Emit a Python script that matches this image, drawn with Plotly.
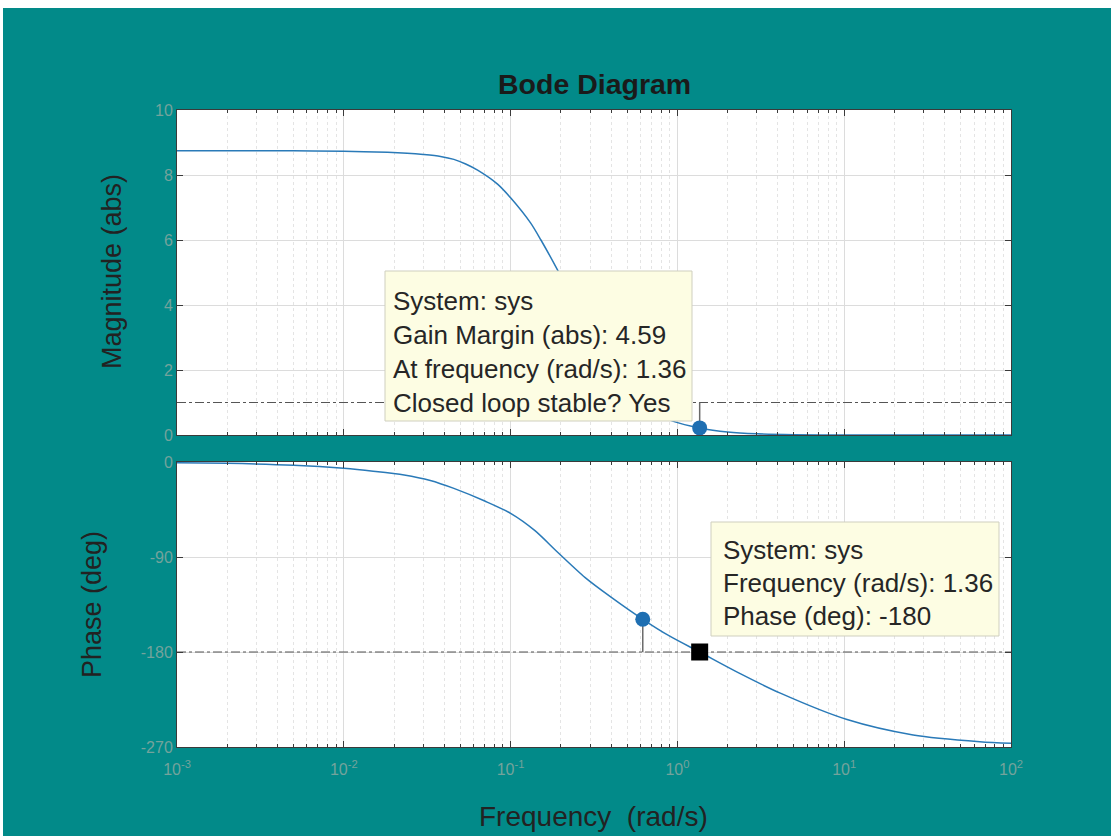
import plotly.graph_objects as go

# ---------------- data ----------------
freq_mag = [0.001, 0.005, 0.01, 0.0183, 0.024, 0.030, 0.038, 0.0457, 0.0538, 0.0634, 0.0835, 0.1, 0.132, 0.152,
            0.191, 0.25, 0.32, 0.42, 0.52, 0.615, 0.8, 0.946, 1.36, 2, 3, 5, 10, 30, 100]
magnitude = [8.75, 8.745, 8.73, 8.70, 8.67, 8.63, 8.57, 8.48, 8.34, 8.15, 7.72, 7.3, 6.52, 6.0,
             5.08, 3.9, 2.85, 1.9, 1.32, 1.0, 0.59, 0.42, 0.218, 0.093, 0.035, 0.0095, 0.0015, 0.0001, 0.000003]

freq_ph = [0.001, 0.002, 0.005, 0.01, 0.015, 0.023, 0.033, 0.0457, 0.07, 0.1, 0.14, 0.19, 0.28, 0.4,
           0.62, 0.9, 1.36, 2.38, 4.14, 10.4, 25.9, 65, 100]
phase = [-0.7, -1.3, -3.1, -6, -8.7, -12.3, -17.5, -25, -37, -48.6, -65, -85, -109.5, -128,
         -149, -165, -180, -200.5, -219, -244, -258.6, -265, -266.5]

gm_freq = 1.36          # gain-margin frequency (rad/s)
gm_mag = 0.218          # |G| at gm_freq (1/4.59)
pm_freq = 0.62          # gain crossover frequency
pm_phase = -149         # phase at crossover

mag_ticks = [0, 2, 4, 6, 8, 10]
phase_ticks = [-270, -180, -90, 0]
freq_ticks = [1e-3, 1e-2, 1e-1, 1e0, 1e1, 1e2]
freq_ticktext = ["10<sup>-3</sup>", "10<sup>-2</sup>", "10<sup>-1</sup>",
                 "10<sup>0</sup>", "10<sup>1</sup>", "10<sup>2</sup>"]

tip1_lines = ["System: sys", "Gain Margin (abs): 4.59",
              "At frequency (rad/s): 1.36", "Closed loop stable? Yes"]
tip2_lines = ["System: sys", "Frequency (rad/s): 1.36", "Phase (deg): -180"]

# ---------------- styling / geometry ----------------
W, H = 1111, 836
L, R, T, B = 177, 100, 110, 89
PW, PH = W - L - R, H - T - B
BG = "#028a89"
LINE = "#2a7ab8"
DOT = "#1f6fb2"
FONT = "Liberation Sans, Arial, sans-serif"
TICKCOL = "#74a39c"
AXCOL = "#3a3a3a"


def xp(px):
    return (px - L) / PW


def yp(py):
    return (H - B - py) / PH


top_dom = [yp(435), yp(110)]
bot_dom = [yp(747), yp(462)]

minor_vals = [m * 10.0 ** e for e in range(-3, 2) for m in range(2, 10)]

fig = go.Figure()

fig.add_trace(go.Scatter(x=freq_mag, y=magnitude, mode="lines",
                         line=dict(color=LINE, width=1.5, shape="spline", smoothing=0.8),
                         xaxis="x", yaxis="y", showlegend=False))
fig.add_trace(go.Scatter(x=freq_ph, y=phase, mode="lines",
                         line=dict(color=LINE, width=1.5, shape="spline", smoothing=0.8),
                         xaxis="x2", yaxis="y2", showlegend=False))

fig.add_trace(go.Scatter(x=[freq_ticks[0], freq_ticks[-1]], y=[1, 1], mode="lines",
                         line=dict(color="#555555", width=1.2, dash="dashdot"), xaxis="x", yaxis="y", showlegend=False))
fig.add_trace(go.Scatter(x=[freq_ticks[0], freq_ticks[-1]], y=[-180, -180], mode="lines",
                         line=dict(color="#555555", width=1.2, dash="dashdot"), xaxis="x2", yaxis="y2", showlegend=False))

fig.add_trace(go.Scatter(x=[gm_freq, gm_freq], y=[1, gm_mag], mode="lines",
                         line=dict(color="#6a6a6a", width=1.5), xaxis="x", yaxis="y", showlegend=False))
fig.add_trace(go.Scatter(x=[pm_freq, pm_freq], y=[-180, pm_phase], mode="lines",
                         line=dict(color="#6a6a6a", width=1.5), xaxis="x2", yaxis="y2", showlegend=False))

fig.add_trace(go.Scatter(x=[gm_freq], y=[gm_mag], mode="markers", marker=dict(color=DOT, size=15),
                         xaxis="x", yaxis="y", showlegend=False, cliponaxis=False))
fig.add_trace(go.Scatter(x=[pm_freq], y=[pm_phase], mode="markers", marker=dict(color=DOT, size=15),
                         xaxis="x2", yaxis="y2", showlegend=False))
fig.add_trace(go.Scatter(x=[gm_freq], y=[-180], mode="markers",
                         marker=dict(color="black", size=17, symbol="square", line=dict(color="black", width=0)),
                         xaxis="x2", yaxis="y2", showlegend=False))

axis_common = dict(
    showline=True, linecolor=AXCOL, linewidth=1, mirror="ticks",
    ticks="inside", ticklen=6, tickcolor=AXCOL, tickwidth=1,
    showgrid=True, gridcolor="#dcdcdc", gridwidth=1, zeroline=False,
    tickfont=dict(family=FONT, size=16, color=TICKCOL),
)
xcommon = dict(axis_common, type="log", range=[-3, 2], tickvals=freq_ticks, ticktext=freq_ticktext,
               minor=dict(tickmode="array", tickvals=minor_vals, ticks="inside", ticklen=3,
                          tickcolor=AXCOL, showgrid=True, gridcolor="#e4e4e4", griddash="dot"))

fig.update_layout(
    width=W, height=H,
    margin=dict(l=L, r=R, t=T, b=B),
    paper_bgcolor=BG, plot_bgcolor="white",
    xaxis=dict(xcommon, anchor="y", domain=[0, 1], showticklabels=False),
    xaxis2=dict(xcommon, anchor="y2", domain=[0, 1], matches="x", ticklabelstandoff=8),
    yaxis=dict(axis_common, anchor="x", domain=top_dom, range=[0, 10], tickvals=mag_ticks,
               ticktext=[str(v) for v in mag_ticks]),
    yaxis2=dict(axis_common, anchor="x2", domain=bot_dom, range=[-270, 0], tickvals=phase_ticks,
                ticktext=[str(v) for v in phase_ticks]),
    font=dict(family=FONT),
)

shapes = []
annotations = []

# white border strips of the screenshot
shapes.append(dict(type="rect", xref="paper", yref="paper", x0=xp(0), x1=xp(W), y0=yp(8), y1=yp(0),
                   fillcolor="white", line=dict(width=0), layer="above"))
shapes.append(dict(type="rect", xref="paper", yref="paper", x0=xp(0), x1=xp(3), y0=yp(H), y1=yp(0),
                   fillcolor="white", line=dict(width=0), layer="above"))

TIPBG = "#fdfde3"
TIPBORDER = "#cfcfbf"
shapes.append(dict(type="rect", xref="paper", yref="paper", x0=xp(385), x1=xp(692), y0=yp(421), y1=yp(271),
                   fillcolor=TIPBG, line=dict(color=TIPBORDER, width=1), layer="above"))
shapes.append(dict(type="rect", xref="paper", yref="paper", x0=xp(711), x1=xp(999), y0=yp(636), y1=yp(522),
                   fillcolor=TIPBG, line=dict(color=TIPBORDER, width=1), layer="above"))

for i, t in enumerate(tip1_lines):
    annotations.append(dict(text=t, xref="paper", yref="paper", x=xp(391), y=yp(301 + 34 * i),
                            xanchor="left", yanchor="middle", showarrow=False,
                            font=dict(family=FONT, size=26, color="#262626")))
for i, t in enumerate(tip2_lines):
    annotations.append(dict(text=t, xref="paper", yref="paper", x=xp(721), y=yp(550 + 33 * i),
                            xanchor="left", yanchor="middle", showarrow=False,
                            font=dict(family=FONT, size=26, color="#262626")))

annotations.append(dict(text="<b>Bode Diagram</b>", xref="paper", yref="paper", x=xp(594), y=yp(84),
                        xanchor="center", yanchor="middle", showarrow=False,
                        font=dict(family=FONT, size=28.5, color="#1a1a1a")))
annotations.append(dict(text="Frequency  (rad/s)", xref="paper", yref="paper", x=xp(593), y=yp(816),
                        xanchor="center", yanchor="middle", showarrow=False,
                        font=dict(family=FONT, size=28, color="#222222")))
annotations.append(dict(text="Magnitude (abs)", xref="paper", yref="paper", x=xp(112), y=yp(272),
                        xanchor="center", yanchor="middle", showarrow=False, textangle=-90,
                        font=dict(family=FONT, size=27, color="#222222")))
annotations.append(dict(text="Phase (deg)", xref="paper", yref="paper", x=xp(92), y=yp(605),
                        xanchor="center", yanchor="middle", showarrow=False, textangle=-90,
                        font=dict(family=FONT, size=27, color="#222222")))

fig.update_layout(shapes=shapes, annotations=annotations)

fig.write_html("out.html", config={"displayModeBar": False},
               post_script="document.body.style.margin='0';document.body.style.overflow='hidden';")
